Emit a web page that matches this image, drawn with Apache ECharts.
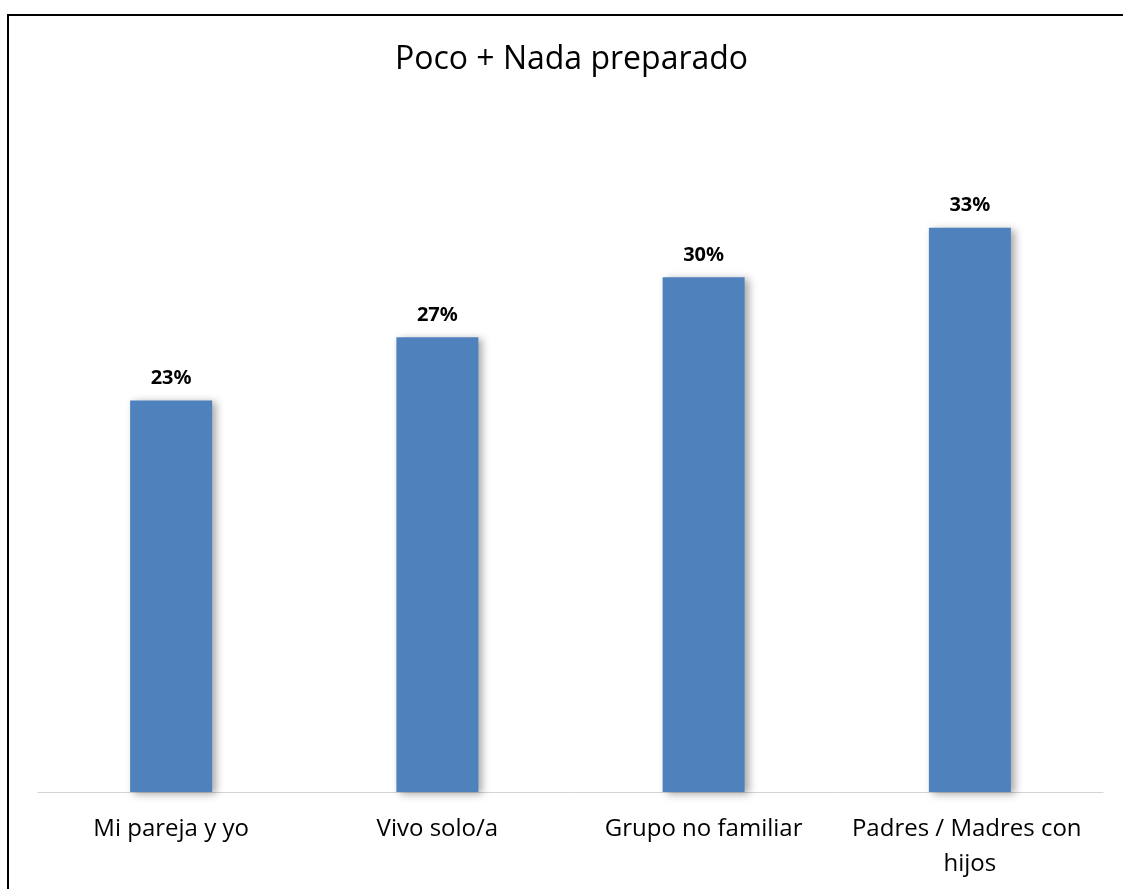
<!DOCTYPE html>
<html>
<head>
<meta charset="utf-8">
<script src="https://cdn.jsdelivr.net/npm/echarts@6/dist/echarts.min.js"></script>
<style>
  html, body { margin: 0; padding: 0; overflow: hidden; background: #fff; }
  .frame {
    position: absolute;
    left: 7px;
    top: 14px;
    width: 1129px;
    height: 890px;
    box-sizing: border-box;
    border: 2px solid #000;
  }
  #chart { width: 100%; height: 100%; }
</style>
</head>
<body>
<div class="frame"><div id="chart"></div></div>
<script>
// datos
var categories = ['Mi pareja y yo', 'Vivo solo/a', 'Grupo no familiar', 'Padres / Madres con hijos'];
var values = [22.9, 26.6, 30.1, 33.0];

var chart = echarts.init(document.getElementById('chart'));
chart.setOption({
  animation: false,
  title: {
    text: 'Poco + Nada preparado',
    left: 'center',
    top: 23,
    textStyle: {
      fontFamily: 'Open Sans',
      fontSize: 32,
      fontWeight: 'normal',
      color: '#000'
    }
  },
  grid: {
    left: 29,
    right: 31,
    top: 92,
    bottom: 110
  },
  xAxis: {
    type: 'category',
    data: categories,
    axisLine: { lineStyle: { color: '#d4d4d4', width: 1 } },
    axisTick: { show: false },
    axisLabel: {
      interval: 0,
      fontFamily: 'Open Sans',
      fontSize: 24,
      color: '#000',
      margin: 20,
      lineHeight: 35,
      width: 250,
      overflow: 'break'
    }
  },
  yAxis: {
    type: 'value',
    min: 0,
    max: 40,
    show: false,
    splitLine: { show: false }
  },
  series: [{
    type: 'bar',
    data: values,
    barWidth: 82,
    itemStyle: {
      color: '#4f81bd',
      shadowBlur: 8,
      shadowOffsetX: 4,
      shadowOffsetY: 2,
      shadowColor: 'rgba(0,0,0,0.35)'
    },
    label: {
      show: true,
      position: 'top',
      distance: 12,
      fontFamily: 'Noto Sans',
      fontSize: 20,
      fontWeight: 'bold',
      color: '#000',
      formatter: function (p) { return Math.round(p.value) + '%'; }
    }
  }]
});
</script>
</body>
</html>
